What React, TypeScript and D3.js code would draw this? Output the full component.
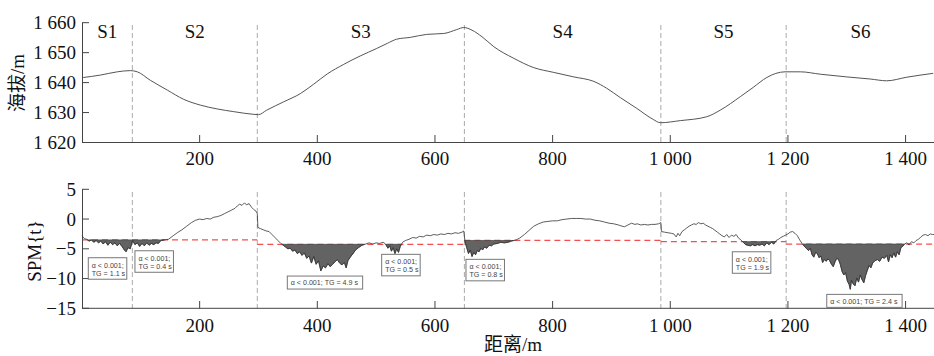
import React from "react";
import * as d3 from "d3";

// ---- DATA ----
const elevDist = [2, 31, 60, 82, 94, 116, 145, 173, 201, 230, 258, 292, 300, 314, 343, 371, 394, 417, 445, 473, 501, 519, 535, 558, 586, 615, 637, 649, 663, 680, 700, 734, 768, 802, 836, 870, 892, 915, 943, 971, 983, 1017, 1062, 1085, 1119, 1141, 1164, 1195, 1221, 1255, 1300, 1340, 1368, 1402, 1447];
const elevVal = [1641.7, 1642.5, 1643.6, 1644, 1643.6, 1640.8, 1637.5, 1634.4, 1632.5, 1631.2, 1630.3, 1629.4, 1629.3, 1630.8, 1633.6, 1636.3, 1639.5, 1642.9, 1646.1, 1648.9, 1651.4, 1653.1, 1654.5, 1655.1, 1656.1, 1656.4, 1657.7, 1658.4, 1657.5, 1655.3, 1652, 1648.1, 1645, 1643.4, 1641.9, 1640.4, 1638.1, 1635, 1631.4, 1627.7, 1626.6, 1627.3, 1628.6, 1630.8, 1635.3, 1638.4, 1641.7, 1643.6, 1643.6, 1642.8, 1641.9, 1641.2, 1640.6, 1641.8, 1643.1];

const spmDist = [0, 4, 8, 12, 16, 20, 24, 28, 32, 36, 40, 44, 48, 52, 56, 60, 64, 68, 72, 75, 78, 82, 86, 90, 94, 98, 102, 106, 110, 114, 118, 122, 126, 130, 134, 140, 147, 155, 162, 170, 178, 186, 193, 200, 206, 212, 218, 224, 230, 236, 242, 248, 254, 260, 264, 268, 272, 276, 280, 284, 288, 292, 296, 298, 299, 303, 308, 313, 318, 323, 328, 333, 338, 342, 346, 350, 354, 358, 362, 366, 370, 374, 378, 382, 386, 390, 394, 398, 402, 406, 410, 414, 418, 422, 426, 430, 434, 438, 442, 446, 449, 452, 456, 460, 465, 470, 476, 482, 488, 494, 500, 506, 512, 516, 520, 523, 526, 529, 532, 535, 538, 541, 545, 550, 556, 562, 568, 574, 580, 586, 592, 598, 604, 610, 616, 622, 628, 634, 640, 646, 649, 651, 654, 657, 660, 663, 666, 669, 672, 675, 678, 681, 684, 688, 692, 696, 700, 706, 712, 718, 724, 730, 738, 744, 752, 760, 768, 776, 784, 792, 800, 808, 816, 824, 832, 840, 848, 856, 864, 872, 880, 888, 896, 904, 912, 918, 922, 928, 934, 940, 944, 950, 956, 962, 968, 974, 980, 984, 985, 990, 996, 1002, 1006, 1010, 1013, 1016, 1020, 1024, 1028, 1032, 1036, 1040, 1044, 1048, 1052, 1056, 1060, 1064, 1068, 1072, 1076, 1080, 1084, 1088, 1092, 1096, 1100, 1104, 1108, 1112, 1116, 1120, 1124, 1128, 1132, 1136, 1140, 1144, 1148, 1152, 1156, 1160, 1164, 1168, 1172, 1176, 1180, 1184, 1188, 1192, 1196, 1200, 1204, 1208, 1212, 1216, 1220, 1224, 1228, 1232, 1235, 1238, 1241, 1244, 1247, 1250, 1253, 1256, 1259, 1262, 1265, 1268, 1271, 1274, 1277, 1280, 1283, 1286, 1289, 1292, 1295, 1298, 1301, 1304, 1306, 1308, 1311, 1314, 1317, 1320, 1323, 1326, 1329, 1332, 1335, 1338, 1341, 1344, 1348, 1352, 1356, 1360, 1364, 1368, 1371, 1374, 1377, 1380, 1383, 1386, 1389, 1392, 1395, 1398, 1402, 1406, 1410, 1414, 1418, 1422, 1426, 1430, 1434, 1438, 1442, 1446, 1450];
const spmVal = [-2.8, -3.3, -3.4, -3.7, -3.5, -3.9, -3.6, -4.0, -3.7, -4.2, -3.8, -4.4, -3.9, -4.3, -4.0, -4.5, -4.1, -4.6, -5.2, -5.5, -4.8, -5.0, -3.6, -4.3, -4.0, -4.6, -4.1, -4.5, -4.0, -4.4, -4.1, -4.3, -4.0, -4.1, -3.6, -3.5, -3.4, -2.8, -2.3, -1.8, -1.2, -0.6, -0.2, 0.0, -0.1, 0.1, 0.0, 0.3, 0.4, 0.6, 0.9, 1.2, 1.5, 1.8, 2.2, 2.5, 2.3, 2.7, 2.4, 2.6, 2.0, 1.6, 1.3, 0.9, -1.4, -1.6, -1.8, -2.0, -2.1, -2.6, -3.1, -3.6, -4.1, -4.4, -4.7, -5.0, -4.9, -5.4, -5.2, -5.8, -5.5, -6.1, -5.7, -6.6, -6.2, -7.4, -6.3, -7.6, -7.0, -8.7, -7.9, -8.2, -7.5, -8.0, -7.6, -7.2, -6.8, -7.4, -7.7, -7.3, -8.2, -7.0, -6.4, -5.9, -5.2, -4.8, -4.4, -4.2, -4.0, -4.2, -4.0, -4.1, -3.9, -4.2, -4.9, -4.5, -5.4, -4.8, -5.8, -5.0, -5.6, -4.6, -3.9, -3.6, -3.4, -3.1, -3.2, -2.9, -3.0, -2.7, -2.8, -2.6, -2.7, -2.5, -2.6, -2.4, -2.5, -2.3, -2.4, -2.2, -2.0, -3.8, -4.8, -5.8, -5.2, -6.3, -5.6, -6.0, -5.3, -5.5, -4.9, -5.2, -4.7, -4.9, -4.4, -4.5, -4.2, -4.1, -3.9, -4.0, -3.9, -3.7, -3.5, -3.2, -2.6, -1.9, -1.2, -0.8, -0.5, -0.4, -0.3, -0.3, -0.1, 0.0, 0.1, 0.1, 0.1, 0.0, 0.0, -0.2, -0.3, -0.5, -0.7, -0.8, -1.0, -1.2, -1.3, -1.0, -0.7, -0.9, -0.8, -1.0, -0.9, -1.0, -0.9, -0.9, -0.8, -0.6, -2.1, -2.2, -2.3, -2.4, -2.5, -3.0, -2.4, -2.8, -2.1, -1.8, -1.5, -1.2, -1.0, -0.8, -0.9, -0.6, -0.8, -0.7, -1.0, -1.2, -1.4, -1.6, -1.9, -2.2, -2.5, -2.8, -3.0, -2.6, -3.1, -2.7, -2.9, -2.6, -3.2, -3.5, -3.9, -4.3, -4.4, -4.5, -4.3, -4.5, -4.3, -4.4, -4.2, -4.5, -4.0, -4.3, -3.9, -4.2, -3.6, -3.4, -3.1, -2.9, -2.7, -2.5, -2.2, -2.1, -2.4, -2.8, -3.5, -4.1, -4.6, -5.0, -5.3, -4.9, -6.0, -6.4, -5.6, -5.8, -6.5, -6.2, -7.3, -6.8, -7.1, -6.7, -7.0, -7.6, -8.0, -7.2, -6.6, -6.8, -7.6, -8.8, -9.4, -9.0, -10.4, -11.0, -11.8, -10.3, -10.9, -11.2, -9.9, -10.6, -9.4, -10.2, -10.7, -9.5, -8.6, -7.8, -8.2, -7.4, -7.0, -6.8, -7.1, -6.4, -6.6, -6.1, -7.2, -6.0, -6.5, -5.7, -6.4, -5.5, -6.0, -4.8, -4.6, -4.2, -4.0, -4.3, -3.8, -4.0, -3.6, -3.4, -3.0, -2.7, -2.6, -2.8, -2.5, -2.6, -2.6];

const segmentBounds = [85.6, 298, 650, 984, 1197];
const segmentLabels = ["S1", "S2", "S3", "S4", "S5", "S6"];
const thresholdBounds = [0, 298, 650, 984, 1197, 1450];
const thresholdVals = [-3.5, -4.25, -3.6, -3.8, -4.2];

const xTicks = [200, 400, 600, 800, 1000, 1200, 1400];
const elevTicks = [1620, 1630, 1640, 1650, 1660];
const spmTicks = [-15, -10, -5, 0, 5];

const annoLines = [
  ["α < 0.001;", "TG = 1.1 s"],
  ["α < 0.001;", "TG = 0.4 s"],
  ["α < 0.001; TG = 4.9 s"],
  ["α < 0.001;", "TG = 0.5 s"],
  ["α < 0.001;", "TG = 0.8 s"],
  ["α < 0.001;", "TG = 1.9 s"],
  ["α < 0.001; TG = 2.4 s"],
];

// layout (box top-left anchors in data coordinates)
const annoAnchorD = [10.7, 90, 349, 509.4, 652.7, 1105.5, 1266];
const annoAnchorV = [-6.5, -5.33, -9.58, -5.93, -6.77, -5.5, -12.66];

const fmtNum = (v: number) => {
  const s = Math.abs(v).toString();
  const withSpace = s.length >= 4 ? s.slice(0, s.length - 3) + " " + s.slice(s.length - 3) : s;
  return v < 0 ? "\u2212" + withSpace : withSpace;
};

const SERIF = "'Liberation Serif', 'DejaVu Serif', serif";
const CJK = "'Liberation Serif', 'Noto Sans CJK SC', serif";

export default function App() {
  const W = 934, H = 356;
  const x = d3.scaleLinear().domain([0, 1450]).range([82, 935]);
  const yTop = d3.scaleLinear().domain([1620, 1660]).range([142.5, 22.7]);
  const yBot = d3.scaleLinear().domain([-15, 5]).range([308.3, 189.3]);

  const elevPts: [number, number][] = elevDist.map((d, i) => [d, elevVal[i]]);
  const spmPts: [number, number][] = spmDist.map((d, i) => [d, spmVal[i]]);

  const elevLine = d3.line<[number, number]>().x(p => x(p[0])).y(p => yTop(p[1])).curve(d3.curveMonotoneX)(elevPts) || "";
  const spmLine = d3.line<[number, number]>().x(p => x(p[0])).y(p => yBot(p[1]))(spmPts) || "";

  const interp = (d: number) => {
    const i = d3.bisectLeft(spmDist, d);
    if (i <= 0) return spmVal[0];
    if (i >= spmDist.length) return spmVal[spmVal.length - 1];
    const d0 = spmDist[i - 1], d1 = spmDist[i];
    const t = (d - d0) / (d1 - d0);
    return spmVal[i - 1] + t * (spmVal[i] - spmVal[i - 1]);
  };

  const clusters: [number, number][][] = [];
  thresholdVals.forEach((t, si) => {
    const a = thresholdBounds[si], b = thresholdBounds[si + 1];
    const pts: [number, number][] = [[a + 0.01, interp(a + 0.01)]];
    spmPts.forEach(p => { if (p[0] > a + 0.01 && p[0] < b) pts.push(p); });
    pts.push([b, interp(b)]);
    let cur: [number, number][] | null = null;
    for (let i = 0; i < pts.length; i++) {
      const p = pts[i];
      const below = p[1] < t;
      if (below) {
        if (!cur) {
          cur = [];
          if (i > 0) {
            const q = pts[i - 1];
            const f = (t - q[1]) / (p[1] - q[1]);
            cur.push([q[0] + f * (p[0] - q[0]), t]);
          } else cur.push([p[0], t]);
        }
        cur.push(p);
      } else if (cur) {
        const q = pts[i - 1];
        const f = (t - q[1]) / (p[1] - q[1]);
        cur.push([q[0] + f * (p[0] - q[0]), t]);
        clusters.push(cur);
        cur = null;
      }
    }
    if (cur) { cur.push([cur[cur.length - 1][0], t]); clusters.push(cur); }
  });
  const clusterPath = (c: [number, number][]) =>
    "M" + c.map(p => `${x(p[0]).toFixed(2)},${yBot(p[1]).toFixed(2)}`).join("L") + "Z";

  const segEdges = [0, ...segmentBounds, 1450];
  const axisColor = "#444";

  return (
    <div style={{ position: "absolute", left: 0, top: 0 }}>
      <svg width={W} height={H} style={{ display: "block", background: "#fff" }}>
        {/* ---------- TOP CHART ---------- */}
        {segmentBounds.map((b, i) => (
          <line key={"tv" + i} x1={x(b)} x2={x(b)} y1={25} y2={142.5} stroke="#aaa" strokeWidth={1} strokeDasharray="5,3" />
        ))}
        {segmentLabels.map((s, i) => (
          <text key={"sl" + i} x={x((segEdges[i] + segEdges[i + 1]) / 2)} y={37.5} textAnchor="middle" fontFamily={SERIF} fontSize={19} fill="#111">{s}</text>
        ))}
        <path d={elevLine} fill="none" stroke="#555" strokeWidth={1} />
        <line x1={82} x2={934} y1={142.5} y2={142.5} stroke={axisColor} strokeWidth={1} />
        <line x1={82.5} x2={82.5} y1={22.7} y2={143} stroke={axisColor} strokeWidth={1} />
        {elevTicks.map(t => (
          <g key={"et" + t}>
            <line x1={82} x2={89} y1={yTop(t)} y2={yTop(t)} stroke={axisColor} />
            <text x={76} y={yTop(t) + 6.5} textAnchor="end" fontFamily={SERIF} fontSize={19} fill="#111">{fmtNum(t)}</text>
          </g>
        ))}
        {xTicks.map(t => (
          <g key={"xt" + t}>
            <line x1={x(t)} x2={x(t)} y1={142.5} y2={135} stroke={axisColor} />
            <text x={x(t)} y={165} textAnchor="middle" fontFamily={SERIF} fontSize={19} fill="#111">{fmtNum(t)}</text>
          </g>
        ))}
        <text transform="translate(24,83) rotate(-90)" textAnchor="middle" fontFamily={CJK} fontSize={19} fill="#111">海拔/m</text>

        {/* ---------- BOTTOM CHART ---------- */}
        {segmentBounds.map((b, i) => (
          <line key={"bv" + i} x1={x(b)} x2={x(b)} y1={192} y2={308.3} stroke="#aaa" strokeWidth={1} strokeDasharray="5,3" />
        ))}
        {thresholdVals.map((t, i) => (
          <line key={"th" + i} x1={x(thresholdBounds[i])} x2={x(thresholdBounds[i + 1])} y1={yBot(t)} y2={yBot(t)} stroke="#f25050" strokeWidth={1.2} strokeDasharray="6,4" />
        ))}
        {clusters.map((c, i) => (
          <path key={"cl" + i} d={clusterPath(c)} fill="#636363" stroke="#444" strokeWidth={0.7} />
        ))}
        <path d={spmLine} fill="none" stroke="#333" strokeWidth={0.8} />
        <line x1={82} x2={934} y1={308.3} y2={308.3} stroke={axisColor} strokeWidth={1} />
        <line x1={82.5} x2={82.5} y1={189.3} y2={308.8} stroke={axisColor} strokeWidth={1} />
        {spmTicks.map(t => (
          <g key={"st" + t}>
            <line x1={82} x2={89} y1={yBot(t)} y2={yBot(t)} stroke={axisColor} />
            <text x={76} y={yBot(t) + 6.5} textAnchor="end" fontFamily={SERIF} fontSize={19} fill="#111">{fmtNum(t)}</text>
          </g>
        ))}
        {xTicks.map(t => (
          <g key={"bx" + t}>
            <line x1={x(t)} x2={x(t)} y1={308.3} y2={301} stroke={axisColor} />
            <text x={x(t)} y={332} textAnchor="middle" fontFamily={SERIF} fontSize={19} fill="#111">{fmtNum(t)}</text>
          </g>
        ))}
        <text transform="translate(41,251) rotate(-90)" textAnchor="middle" fontFamily={SERIF} fontSize={19} fill="#111">SPM{"{t}"}</text>
        <text x={513} y={351} textAnchor="middle" fontFamily={CJK} fontSize={19} fill="#111">距离/m</text>

        {annoLines.map((lines, i) => {
          const bx = x(annoAnchorD[i]);
          const by = yBot(annoAnchorV[i]);
          const maxLen = Math.max(...lines.map(l => l.length));
          const w = maxLen * 3.35 + 5;
          const h = lines.length === 1 ? 13 : 21.5;
          return (
            <g key={"an" + i}>
              <rect x={bx} y={by} width={w} height={h} fill="#fff" stroke="#777" strokeWidth={1} />
              {lines.map((l, j) => (
                <text key={j} x={bx + 3.5} y={by + (lines.length === 1 ? 9.3 : 9.8 + j * 8.3)} fontFamily="'Liberation Sans', Arial, sans-serif" fontSize={7.1} fill="#444">{l}</text>
              ))}
            </g>
          );
        })}
      </svg>
    </div>
  );
}
